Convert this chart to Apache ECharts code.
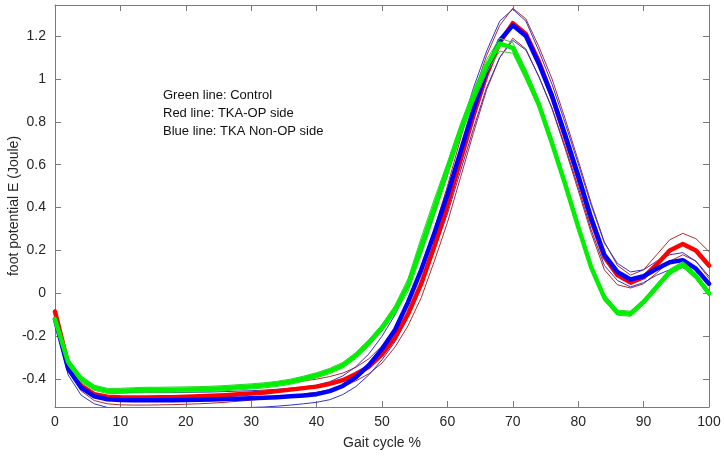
<!DOCTYPE html>
<html>
<head>
<meta charset="utf-8">
<script src="https://cdn.jsdelivr.net/npm/echarts@6/dist/echarts.min.js"></script>
<style>
  html, body { margin: 0; padding: 0; background: #fff; }
  #chart { width: 724px; height: 456px; }
</style>
</head>
<body>
<div id="chart"></div>
<script>
// gait cycle samples (%)
const gaitPct = [0,2,4,6,8,10,12,14,16,18,20,22,24,26,28,30,32,34,36,38,40,42,44,46,48,50,
  52,54,56,58,60,62,64,66,68,70,72,74,76,78,80,82,84,86,88,90,92,94,96,98,100];

// Control (green): mean and +/- SD
const controlMean = [-0.12,-0.32,-0.40,-0.44,-0.455,-0.455,-0.452,-0.450,-0.450,-0.449,-0.448,-0.447,-0.445,-0.442,-0.438,-0.434,-0.429,-0.422,-0.412,-0.398,-0.382,-0.362,-0.335,-0.29,-0.23,-0.16,
  -0.075,0.04,0.22,0.40,0.58,0.76,0.92,1.06,1.165,1.145,1.02,0.88,0.70,0.51,0.31,0.12,-0.02,-0.09,-0.095,-0.04,0.03,0.10,0.135,0.08,0.00];
const controlUpper = [-0.11,-0.305,-0.385,-0.428,-0.443,-0.443,-0.440,-0.438,-0.438,-0.437,-0.436,-0.435,-0.433,-0.430,-0.426,-0.422,-0.417,-0.410,-0.400,-0.386,-0.370,-0.350,-0.322,-0.276,-0.215,-0.145,
  -0.055,0.07,0.26,0.44,0.61,0.79,0.95,1.09,1.19,1.17,1.045,0.90,0.72,0.525,0.325,0.135,-0.005,-0.078,-0.083,-0.028,0.043,0.113,0.148,0.093,0.012];
const controlLower = [-0.13,-0.335,-0.415,-0.452,-0.467,-0.467,-0.464,-0.462,-0.462,-0.461,-0.460,-0.459,-0.457,-0.454,-0.450,-0.446,-0.441,-0.434,-0.424,-0.410,-0.394,-0.374,-0.348,-0.304,-0.245,-0.175,
  -0.095,0.01,0.18,0.36,0.55,0.73,0.89,1.03,1.13,1.12,0.995,0.86,0.68,0.495,0.295,0.105,-0.035,-0.102,-0.107,-0.052,0.017,0.087,0.122,0.067,-0.012];

// TKA operated side (red)
const opMean = [-0.085,-0.33,-0.43,-0.47,-0.482,-0.485,-0.486,-0.486,-0.485,-0.484,-0.482,-0.480,-0.478,-0.475,-0.471,-0.467,-0.462,-0.456,-0.449,-0.442,-0.435,-0.422,-0.405,-0.376,-0.342,-0.285,
  -0.205,-0.095,0.045,0.22,0.41,0.62,0.83,1.02,1.17,1.26,1.21,1.08,0.92,0.73,0.54,0.34,0.17,0.085,0.05,0.075,0.135,0.20,0.23,0.20,0.13];
const opUpper = [-0.075,-0.305,-0.40,-0.44,-0.452,-0.455,-0.456,-0.456,-0.455,-0.454,-0.452,-0.450,-0.447,-0.444,-0.440,-0.435,-0.430,-0.423,-0.416,-0.408,-0.400,-0.388,-0.372,-0.345,-0.305,-0.245,
  -0.16,-0.04,0.11,0.30,0.50,0.72,0.93,1.11,1.25,1.33,1.28,1.15,1.00,0.815,0.62,0.42,0.24,0.13,0.085,0.11,0.18,0.25,0.28,0.255,0.195];
const opLower = [-0.095,-0.355,-0.455,-0.50,-0.515,-0.52,-0.521,-0.521,-0.520,-0.519,-0.517,-0.515,-0.512,-0.508,-0.503,-0.498,-0.492,-0.485,-0.477,-0.469,-0.461,-0.450,-0.435,-0.408,-0.375,-0.325,
  -0.25,-0.15,-0.02,0.15,0.33,0.54,0.75,0.95,1.10,1.19,1.14,1.01,0.86,0.675,0.48,0.28,0.11,0.04,0.025,0.045,0.095,0.15,0.18,0.15,0.07];

// TKA non-operated side (blue)
const nonOpMean = [-0.12,-0.35,-0.44,-0.48,-0.494,-0.497,-0.498,-0.498,-0.498,-0.498,-0.497,-0.496,-0.495,-0.493,-0.491,-0.489,-0.487,-0.484,-0.480,-0.476,-0.470,-0.456,-0.432,-0.392,-0.335,-0.26,
  -0.17,-0.04,0.11,0.28,0.46,0.66,0.86,1.04,1.18,1.25,1.20,1.07,0.92,0.74,0.55,0.35,0.18,0.10,0.065,0.08,0.115,0.145,0.155,0.115,0.045];
const nonOpUpper = [-0.105,-0.32,-0.405,-0.445,-0.459,-0.462,-0.463,-0.463,-0.463,-0.463,-0.462,-0.461,-0.460,-0.458,-0.456,-0.454,-0.451,-0.447,-0.442,-0.436,-0.428,-0.412,-0.385,-0.342,-0.282,-0.20,
  -0.10,0.03,0.19,0.37,0.55,0.76,0.96,1.13,1.27,1.325,1.27,1.13,0.975,0.795,0.605,0.41,0.235,0.14,0.10,0.11,0.15,0.18,0.19,0.15,0.08];
const nonOpLower = [-0.135,-0.38,-0.475,-0.515,-0.532,-0.537,-0.538,-0.538,-0.538,-0.538,-0.537,-0.536,-0.535,-0.535,-0.534,-0.532,-0.530,-0.526,-0.521,-0.515,-0.508,-0.496,-0.472,-0.435,-0.38,-0.31,
  -0.225,-0.11,0.03,0.20,0.37,0.57,0.77,0.96,1.10,1.18,1.135,1.01,0.865,0.685,0.495,0.295,0.13,0.06,0.03,0.05,0.085,0.11,0.12,0.08,0.01];

const yTickValues = [-0.4,-0.2,0,0.2,0.4,0.6,0.8,1,1.2];
const yTickLabels = ['-0.4','-0.2','0','0.2','0.4','0.6','0.8','1','1.2'];
const noteLines = ['Green line: Control', 'Red line: TKA-OP side', 'Blue line: TKA Non-OP side'];

const FONT = 'Liberation Sans, Arial, sans-serif';
const frameColor = '#7a7a7a';
const textColor = '#262626';

const chart = echarts.init(document.getElementById('chart'));

function curve(name, values, color, width, z) {
    return {
        name: name,
        type: 'line',
        data: gaitPct.map((x, i) => [x, values[i]]),
        symbol: 'none',
        showSymbol: false,
        silent: true,
        z: z,
        lineStyle: { color: color, width: width, join: 'round', cap: 'round' }
    };
}

const xBase = {
    type: 'value',
    min: 0,
    max: 100,
    interval: 10,
    axisLine: { show: true, onZero: false, lineStyle: { color: frameColor, width: 1 } },
    axisTick: { show: true, inside: true, length: 6, lineStyle: { color: frameColor } },
    splitLine: { show: false }
};
const yBase = {
    type: 'value',
    min: -0.53,
    max: 1.345,
    axisLine: { show: true, onZero: false, lineStyle: { color: frameColor, width: 1 } },
    axisTick: { show: true, inside: true, length: 6, customValues: yTickValues, lineStyle: { color: frameColor } },
    splitLine: { show: false }
};

const option = {
    backgroundColor: '#fff',
    animation: false,
    grid: { left: 55, right: 15, top: 5, bottom: 49, containLabel: false, outerBoundsMode: 'none' },
    xAxis: [
        Object.assign({}, xBase, {
            position: 'bottom',
            name: 'Gait cycle %',
            nameLocation: 'middle',
            nameGap: 29,
            nameMoveOverlap: false,
            nameTextStyle: { color: textColor, fontSize: 14, fontFamily: FONT },
            axisLabel: { color: textColor, fontSize: 14, fontFamily: FONT, margin: 8 }
        }),
        Object.assign({}, xBase, { position: 'top', axisLabel: { show: false } })
    ],
    yAxis: [
        Object.assign({}, yBase, {
            position: 'left',
            name: 'foot potential E (Joule)',
            nameLocation: 'middle',
            nameGap: 34,
            nameMoveOverlap: false,
            nameTextStyle: { color: textColor, fontSize: 14, fontFamily: FONT },
            axisLabel: {
                color: textColor, fontSize: 14, fontFamily: FONT, margin: 9,
                customValues: yTickValues,
                formatter: (v) => {
                    const i = yTickValues.findIndex(t => Math.abs(t - v) < 1e-6);
                    return i >= 0 ? yTickLabels[i] : '';
                }
            }
        }),
        Object.assign({}, yBase, { position: 'right', axisLabel: { show: false } })
    ],
    graphic: noteLines.map((t, i) => ({
        type: 'text',
        left: 163,
        top: 89 + i * 18,
        silent: true,
        style: { text: t, fill: '#111', font: '13px ' + FONT }
    })),
    series: [
        curve('TKA-OP upper', opUpper, '#b32a2a', 1, 2),
        curve('TKA-OP lower', opLower, '#b32a2a', 1, 2),
        curve('TKA Non-OP upper', nonOpUpper, '#3333c8', 1, 2),
        curve('TKA Non-OP lower', nonOpLower, '#3333c8', 1, 2),
        curve('TKA-OP side', opMean, '#ff0000', 4.5, 3),
        curve('TKA Non-OP side', nonOpMean, '#0000ff', 4.5, 4),
        curve('Control upper', controlUpper, '#33cc33', 1, 5),
        curve('Control lower', controlLower, '#33cc33', 1, 5),
        curve('Control', controlMean, '#00f000', 4.5, 6)
    ]
};

chart.setOption(option);
</script>
</body>
</html>
